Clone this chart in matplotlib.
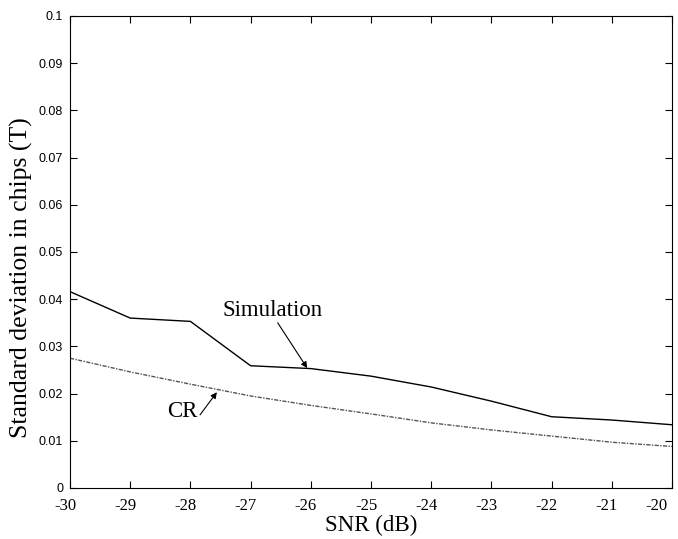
import numpy as np
import matplotlib.pyplot as plt
import matplotlib.transforms as mtransforms

snr = [-30, -29, -28, -27, -26, -25, -24, -23, -22, -21, -20]
simulation = [0.0416, 0.0360, 0.0353, 0.0259, 0.0253, 0.0237, 0.0214, 0.0184, 0.0151, 0.0144, 0.0134]
cr = [0.0275, 0.0246, 0.0220, 0.0195, 0.0175, 0.0157, 0.0138, 0.0123, 0.0110, 0.0097, 0.0088]

serif = 'Liberation Serif'

fig = plt.figure(figsize=(6.78, 5.39), dpi=100)
ax = fig.add_axes([70 / 678, 1 - 488 / 539, 602 / 678, 472 / 539])

ax.plot(snr, simulation, color='black', linewidth=1.0)
ax.plot(snr, cr, color='#555555', linewidth=1.0, linestyle=(0, (3, 1, 1, 1)))

ax.set_xlim(-30, -20)
ax.set_ylim(0, 0.1)
ax.set_xticks(snr)
ax.set_yticks(np.arange(0, 0.101, 0.01))
ax.set_xticklabels([str(v) for v in snr], family=serif, fontsize=12)
ax.set_yticklabels(['0'] + ['%.2f' % v for v in np.arange(0.01, 0.095, 0.01)] + ['0.1'],
                   family='Liberation Sans', fontsize=9)
ax.tick_params(direction='in', top=True, right=True, length=5)
ax.tick_params(axis='x', pad=7)
ax.tick_params(axis='y', pad=5)

# labels sit a bit left of their ticks, the last one is pulled inside
shift = mtransforms.ScaledTranslation(-5 / 100, 0, fig.dpi_scale_trans)
for lab in ax.get_xticklabels():
    lab.set_transform(lab.get_transform() + shift)
ax.get_xticklabels()[-1].set_ha('right')

ax.set_xlabel('SNR (dB)', family=serif, fontsize=16.5, labelpad=1)
ax.set_ylabel('Standard deviation in chips (T)', family=serif, fontsize=18.5)
ax.yaxis.set_label_coords(-0.062, 0.445)

ax.text(-26.64, 0.0375, 'Simulation', family=serif, fontsize=16.5, ha='center', va='center')
ax.annotate('', xy=(-26.06, 0.0254), xytext=(-26.55, 0.0350),
            arrowprops=dict(arrowstyle='-|>', color='black', lw=0.8, shrinkA=0, shrinkB=0,
                            mutation_scale=9))
ax.text(-28.14, 0.0163, 'CR', family=serif, fontsize=16.5, ha='center', va='center')
ax.annotate('', xy=(-27.56, 0.0203), xytext=(-27.84, 0.0155),
            arrowprops=dict(arrowstyle='-|>', color='black', lw=0.8, shrinkA=0, shrinkB=0,
                            mutation_scale=9))

fig.savefig('out.png', dpi=100)
